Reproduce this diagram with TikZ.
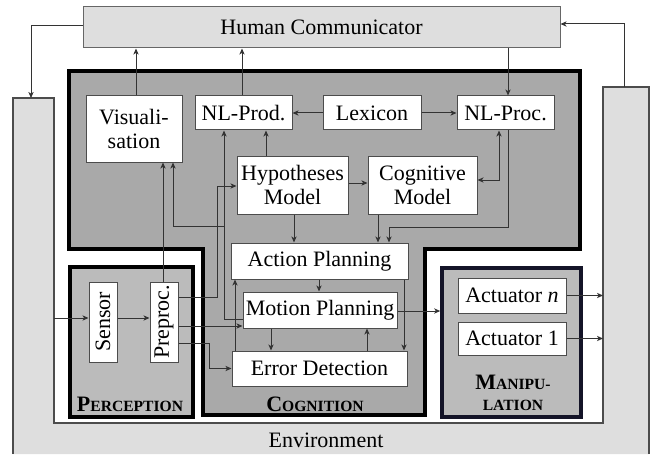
\documentclass[tikz,border=0pt]{standalone}
\usepackage{fontspec}
\setmainfont{Liberation Serif}
\usepackage{graphicx}
\usetikzlibrary{arrows.meta, positioning}

\newcommand\fakesc[2]{\textbf{#1{\fontsize{7.8}{9}\selectfont#2}}}

\begin{document}
\begin{tikzpicture}[x=0.5pt, y=-0.5pt, font=\fontsize{11}{12}\selectfont,
    >={Stealth[length=3pt,width=2.6pt,inset=0.8pt]},
    blk/.style={draw=black!70, fill=white, line width=0.5pt, inner sep=1pt, align=center},
    conn/.style={->, draw=black!80, line width=0.5pt},
    region/.style={line width=1.8pt, draw=black}]
    % Define colors for the areas
    \definecolor{envgray}{RGB}{222,222,222}
    \definecolor{coggray}{RGB}{169,169,169}
    \definecolor{pergray}{RGB}{187,187,187}
    \definecolor{navy}{RGB}{20,20,40}

    \useasboundingbox (0,0) rectangle (656,454);

    % Environment around everything
    \draw[draw=black!70, fill=envgray, line width=0.6pt] (13,454) -- (13,98) -- (54,98) -- (54,423) -- (603,423) -- (603,87) -- (649,87) -- (649,454);
    \node (envlabel) at (326,440) {Environment};
    \coordinate (envL) at (54,318);
    \coordinate (envR) at (603,0);
    \coordinate (envLtop) at (31,98);
    \coordinate (envRtop) at (624,87);

    % The three areas
    \draw[region, fill=coggray] (69,71) -- (580,71) -- (580,249) -- (425,249) -- (425,415) -- (203,415) -- (203,249) -- (69,249) -- cycle;
    \node[region, fill=pergray, minimum width=61.5pt, minimum height=75pt] (perc) at (131.5,342) {};
    \node[region, draw=navy, fill=pergray, minimum width=69.5pt, minimum height=74.5pt] (manip) at (511.5,342.5) {};
    \node (perclabel) at (130,404) {\fakesc{P}{ERCEPTION}};
    \node (coglabel) at (315,404) {\fakesc{C}{OGNITION}};
    \node[align=center, font=\fontsize{11}{10.5}\selectfont] (maniplabel) at (513,393) {\fakesc{M}{ANIPU-}\\\fakesc{}{LATION}};

    % Boxes
    \node[blk, draw=black!60, fill=envgray, minimum width=238.5pt, minimum height=20.5pt] (hc) at (321.5,27.5) {Human Communicator};
    \node[blk, minimum width=48pt, minimum height=33pt] (vis) at (134,129) {Visuali-\\sation};
    \node[blk, minimum width=48.5pt, minimum height=17pt] (nlprod) at (243.5,113) {NL-Prod.};
    \node[blk, minimum width=49pt, minimum height=17pt] (lex) at (372,113) {Lexicon};
    \node[blk, minimum width=48.5pt, minimum height=17pt] (nlproc) at (505.5,113) {NL-Proc.};
    \node[blk, minimum width=55.5pt, minimum height=29pt] (hyp) at (292.5,185) {Hypotheses\\Model};
    \node[blk, minimum width=54.5pt, minimum height=29pt] (cog) at (422.5,185) {Cognitive\\Model};
    \node[blk, minimum width=88.5pt, minimum height=18pt] (act) at (319.5,261) {Action Planning};
    \node[blk, minimum width=77pt, minimum height=18pt] (mot) at (320,310) {Motion Planning};
    \node[blk, minimum width=87.5pt, minimum height=17.5pt] (err) at (319.5,368.5) {Error Detection};
    \node[blk, minimum width=14pt, minimum height=40pt] (sen) at (103,322) {\rotatebox{90}{Sensor}};
    \node[blk, minimum width=14pt, minimum height=40pt] (pre) at (164,322) {\rotatebox{90}{Preproc.}};
    \node[blk, minimum width=54pt, minimum height=17.5pt] (actn) at (512,295.5) {Actuator \textit{n}};
    \node[blk, minimum width=54pt, minimum height=16.5pt] (act1) at (512,338.5) {Actuator 1};

    % Human communicator and environment
    \draw[conn] (hc.west |- 0,26) -| (envLtop);
    \draw[conn] (envRtop) |- (hc.east |- 0,24);
    \draw[conn] (vis.north -| 136,0) -- (hc.south -| 136,0);
    \draw[conn] (nlprod.north -| 242,0) -- (hc.south -| 242,0);
    \draw[conn] (hc.south -| 508,0) -- (nlproc.north -| 508,0);

    % Language part
    \draw[conn] (lex) -- (nlprod);
    \draw[conn] (lex) -- (nlproc);
    \draw[conn] (hyp.north -| 266,0) -- (nlprod.south -| 266,0);
    \draw[conn] (hyp.east |- 0,183) -- (cog.west |- 0,183);
    \draw[conn, <->] (cog.east |- 0,180) -| (nlproc.south -| 499,0);
    \draw[conn] (hyp.south -| 294,0) -- (act.north -| 294,0);
    \draw[conn] (cog.south -| 378,0) -- (act.north -| 378,0);
    \draw[conn] (nlproc.south -| 508,0) |- (389,227) -- (act.north -| 389,0);

    % Planning loop
    \draw[conn] (act.south -| 319,0) -- (mot.north -| 319,0);
    \draw[conn] (mot.south -| 271,0) -- (err.north -| 271,0);
    \draw[conn] (err.north -| 367,0) -- (mot.south -| 367,0);
    \draw[conn] (act.south -| 404,0) -- (err.north -| 404,0);
    \draw[conn] (err.north -| 235,0) -- (act.south -| 235,0);
    \draw[conn] (mot.west |- 0,319) -- (224,319) -- (nlprod.south -| 224,0);
    \draw[conn] (224,226) -| (vis.south -| 173,0);

    % Perception
    \draw[conn] (envL) -- (sen.west |- envL);
    \draw[conn] (sen.east |- envL) -- (pre.west |- envL);
    \draw[conn] (pre.north -| 163,0) -- (vis.south -| 163,0);
    \draw[conn] (pre.east |- 0,297) -| (217,186) -- (hyp.west |- 0,186);
    \draw[conn] (pre.east |- 0,326) -- (mot.west |- 0,326);
    \draw[conn] (pre.east |- 0,343) -| (209,368.5) -- (err.west);

    % Manipulation
    \draw[conn] (mot.east |- 0,311) -- (manip.west |- 0,311);
    \draw[conn] (actn.east) -- (actn.east -| envR);
    \draw[conn] (act1.east) -- (act1.east -| envR);
\end{tikzpicture}
\end{document}
